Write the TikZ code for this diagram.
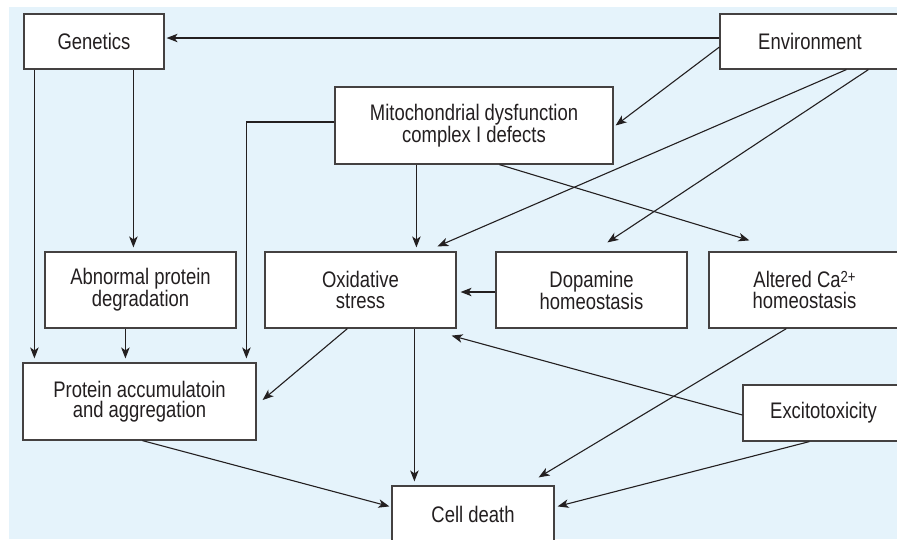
\documentclass[tikz,border=0pt]{standalone}
\usepackage{fontspec}
\setmainfont{Liberation Sans}[FakeStretch=0.82]
\usetikzlibrary{arrows.meta,calc}
\definecolor{bgblue}{RGB}{229,243,251}
\definecolor{ink}{RGB}{35,31,32}
\begin{document}
\begin{tikzpicture}[x=1pt,y=-1pt,
  box/.style={draw=ink!85, line width=1.2pt, fill=white, text=ink, align=center,
    font=\fontsize{22.5}{20.5}\selectfont, inner sep=0pt},
  conn/.style={draw=ink, line width=1.1pt, -{Stealth[length=11pt,width=8.5pt,inset=3pt]}},
  gap/.style={shorten >=4pt}]
\useasboundingbox (0,0) rectangle (897,539);
\fill[white] (0,0) rectangle (897,539);
\fill[bgblue] (9,7) rectangle (897,539);
% nodes
\node[box, minimum width=140pt, minimum height=55pt] (gen) at (94,41.5) {Genetics};
\node[box, minimum width=180pt, minimum height=55pt] (env) at (810,41.5) {Environment};
\node[box, minimum width=278pt, minimum height=77pt] (mito) at (474,125.5) {Mitochondrial dysfunction\\complex I defects};
\node[box, minimum width=191pt, minimum height=76pt] (abn) at (140.5,290) {Abnormal protein\\degradation};
\node[box, minimum width=191pt, minimum height=76pt] (ox) at (360.5,290) {Oxidative\\stress};
\node[box, minimum width=191pt, minimum height=76pt] (dop) at (591.5,290) {Dopamine\\homeostasis};
\node[box, minimum width=191pt, minimum height=76pt] (alt) at (804.5,290) {Altered Ca\raisebox{5pt}{\fontsize{16}{16}\selectfont 2+}\\homeostasis};
\node[box, minimum width=233pt, minimum height=77pt] (prot) at (139.5,401.5) {Protein accumulatoin\\and aggregation};
\node[box, minimum width=161pt, minimum height=56pt] (exc) at (823.5,413) {Excitotoxicity};
\node[box, minimum width=162pt, minimum height=56pt] (cell) at (473,514) {Cell death};
% connectors
\draw[conn, shorten >=2pt] ([yshift=3.5pt]env.west) -- ([yshift=3.5pt]gen.east);
\draw[conn] ([yshift=-5.5pt]env.west) -- ([xshift=2pt]mito.east);
\draw[conn] ([xshift=127pt]env.south west) -- ([xshift=173pt,yshift=5pt]ox.north west);
\draw[conn] ([xshift=149pt]env.south west) -- ([xshift=112pt,yshift=9pt]dop.north west);
\draw[conn, gap] ([xshift=82pt]mito.south west) -- ([xshift=82pt]mito.south west |- ox.north);
\draw[conn] ([xshift=165pt]mito.south west) -- ([xshift=41pt,yshift=11pt]alt.north west);
\draw[conn, gap] ([yshift=3.5pt]mito.west) -| ([xshift=224pt]prot.north west);
\draw[conn, gap] ([xshift=11pt]gen.south west) -- ([xshift=11pt]gen.south west |- prot.north);
\draw[conn, gap] ([xshift=110pt]gen.south west) -- ([xshift=110pt]gen.south west |- abn.north);
\draw[conn, gap] ([xshift=81pt]abn.south west) -- ([xshift=81pt]abn.south west |- prot.north);
\draw[conn] ([xshift=83pt]ox.south west) -- ([xshift=6pt,yshift=1.5pt]prot.east);
\draw[conn, gap] ([xshift=150pt]ox.south west) -- ([xshift=150pt]ox.south west |- cell.north);
\draw[conn, gap] ([yshift=-2pt]dop.west) -- ([yshift=-2pt]ox.east);
\draw[conn] ([yshift=-2pt]exc.west) -- ([xshift=-5pt,yshift=-7pt]ox.south east);
\draw[conn] ([xshift=78pt]alt.south west) -- ([xshift=-16pt,yshift=8pt]cell.north east);
\draw[conn] ([xshift=67pt]exc.south west) -- ([xshift=3pt,yshift=-21pt]cell.north east);
\draw[conn] ([xshift=120pt]prot.south west) -- ([xshift=-2pt,yshift=-21pt]cell.north west);
\end{tikzpicture}
\end{document}
